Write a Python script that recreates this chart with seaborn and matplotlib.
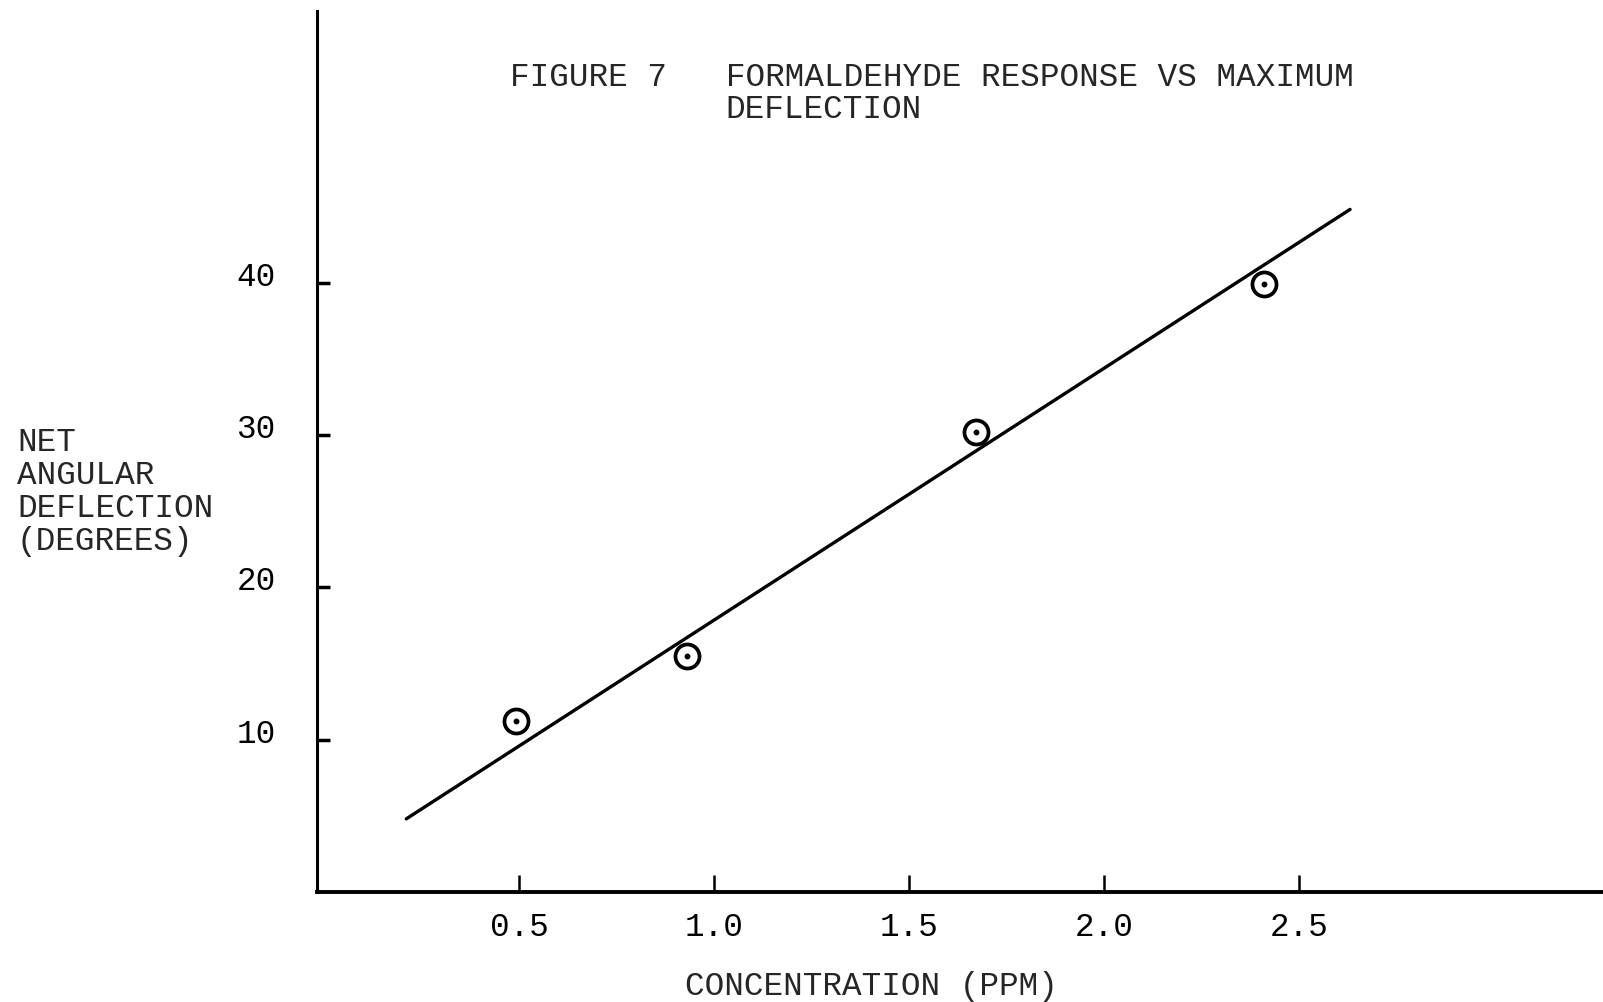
import matplotlib
matplotlib.use("Agg")
import matplotlib.pyplot as plt
import seaborn as sns
import pandas as pd
import matplotlib.transforms as mtransforms

# ---- data ----
conc_ppm = [0.49, 0.93, 1.67, 2.41]
deflection_deg = [11.2, 15.5, 30.2, 39.9]
fit_x = [0.21, 2.63]
fit_y = [4.8, 44.8]
x_ticks = [0.5, 1.0, 1.5, 2.0, 2.5]
x_tick_labels = ["0.5", "1.0", "1.5", "2.0", "2.5"]
y_ticks = [10, 20, 30, 40]
y_tick_labels = ["10", "20", "30", "40"]
title_line1 = "FIGURE 7   FORMALDEHYDE RESPONSE VS MAXIMUM"
title_line2 = "DEFLECTION"
x_label = "CONCENTRATION (PPM)"
y_label = "NET\nANGULAR\nDEFLECTION\n(DEGREES)"

sns.set_style("ticks")
plt.rcParams["font.family"] = ["Liberation Mono", "DejaVu Sans Mono"]
FS = 23.5

pts = pd.DataFrame({"conc": conc_ppm, "defl": deflection_deg})
fit = pd.DataFrame({"x": fit_x, "y": fit_y})

fig = plt.figure(figsize=(16.03, 10.03), dpi=100)
ax = fig.add_axes([0.198, 0.1097, 0.8016, 0.878])

sns.lineplot(data=fit, x="x", y="y", ax=ax, color="black", linewidth=2.4)
sns.scatterplot(data=pts, x="conc", y="defl", ax=ax, s=300, marker="o",
                facecolor="white", edgecolor="black", linewidth=2.7, zorder=3)
sns.scatterplot(data=pts, x="conc", y="defl", ax=ax, s=18, marker="o",
                color="black", edgecolor="black", linewidth=0, zorder=4)

ax.set_xlim(-0.018, 3.277)
ax.set_ylim(0, 57.8)
ax.set_xticks(x_ticks)
ax.set_xticklabels(x_tick_labels)
ax.set_yticks(y_ticks)
ax.set_yticklabels(y_tick_labels)
ax.tick_params(axis="x", direction="in", length=12, width=1.8, pad=14,
               labelsize=FS, colors="black")
ax.tick_params(axis="y", direction="in", length=9, width=2.5, pad=30,
               labelsize=FS, colors="black")
# nudge y tick labels slightly upward as in the scan
offset = mtransforms.ScaledTranslation(0, 10 / 100, fig.dpi_scale_trans)
for lab in ax.get_yticklabels():
    lab.set_transform(lab.get_transform() + offset)

for side in ["top", "right"]:
    ax.spines[side].set_visible(False)
ax.spines["left"].set_linewidth(2.2)
ax.spines["bottom"].set_linewidth(2.8)
ax.spines["left"].set_color("black")
ax.spines["bottom"].set_color("black")

ax.set_xlabel("")
ax.set_ylabel("")

fig.text(510 / 1603, 1 - 77 / 1003, title_line1, fontsize=FS, ha="left", va="center")
fig.text(725 / 1603, 1 - 110 / 1003, title_line2, fontsize=FS, ha="left", va="center")
fig.text(871 / 1603, 1 - 987 / 1003, x_label, fontsize=FS, ha="center", va="center")
fig.text(17 / 1603, 1 - 492 / 1003, y_label, fontsize=FS, ha="left", va="center",
         linespacing=1.07)

fig.savefig("out.png", dpi=100, facecolor="white")
